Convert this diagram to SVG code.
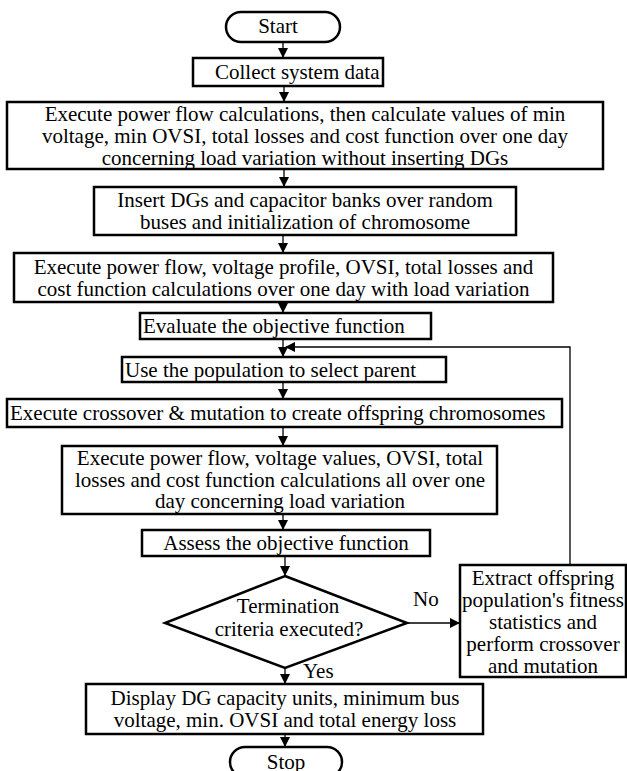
<svg xmlns="http://www.w3.org/2000/svg" width="627" height="771" viewBox="0 0 627 771">
<style>
.b{fill:#fff;stroke:#000;stroke-width:2.5}
.t{font-family:"Liberation Serif","Times New Roman",serif;font-size:21px;fill:#000}
.m{text-anchor:middle}
.c{fill:none;stroke:#000;stroke-width:1.3}
</style>
<defs>
<marker id="ah" markerWidth="10" markerHeight="10" refX="9" refY="5" orient="auto" markerUnits="userSpaceOnUse">
<path d="M0,0 L10,5 L0,10 Z" fill="#000"/>
</marker>
</defs>
<g id="connectors">
<line class="c" x1="283" y1="42" x2="283" y2="57" marker-end="url(#ah)"/>
<line class="c" x1="284" y1="86" x2="284" y2="101" marker-end="url(#ah)"/>
<line class="c" x1="284" y1="169" x2="284" y2="186" marker-end="url(#ah)"/>
<line class="c" x1="283" y1="235" x2="283" y2="252" marker-end="url(#ah)"/>
<line class="c" x1="283" y1="302" x2="283" y2="312" marker-end="url(#ah)"/>
<line class="c" x1="283" y1="339" x2="283" y2="356" marker-end="url(#ah)"/>
<polyline class="c" points="570,564 570,347 286,347" marker-end="url(#ah)"/>
<line class="c" x1="283" y1="382" x2="283" y2="398" marker-end="url(#ah)"/>
<line class="c" x1="283" y1="427" x2="283" y2="445" marker-end="url(#ah)"/>
<line class="c" x1="283" y1="514" x2="283" y2="529" marker-end="url(#ah)"/>
<line class="c" x1="285" y1="556" x2="285" y2="575" marker-end="url(#ah)"/>
<line class="c" x1="407" y1="623" x2="459" y2="623" marker-end="url(#ah)"/>
<line class="c" x1="285" y1="668" x2="285" y2="683" marker-end="url(#ah)"/>
<line class="c" x1="285" y1="734" x2="285" y2="746" marker-end="url(#ah)"/>
<text class="t" x="413" y="606">No</text>
<text class="t" x="303" y="678">Yes</text>
</g>
<g id="start">
<rect class="b" x="226" y="12" width="114" height="30" rx="15"/>
<text class="t m" x="278" y="33">Start</text>
</g>
<g id="collect">
<rect class="b" x="193" y="58" width="190" height="28"/>
<text class="t" x="215" y="79">Collect system data</text>
</g>
<g id="baseflow">
<rect class="b" x="7" y="102" width="596" height="67"/>
<text class="t m" x="305" y="121">Execute power flow calculations, then calculate values of min</text>
<text class="t m" x="305" y="143">voltage, min OVSI, total losses and cost function over one day</text>
<text class="t m" x="305" y="165">concerning load variation without inserting DGs</text>
</g>
<g id="insert">
<rect class="b" x="94" y="187" width="422" height="48"/>
<text class="t m" x="305" y="207">Insert DGs and capacitor banks over random</text>
<text class="t m" x="305" y="229">buses and initialization of chromosome</text>
</g>
<g id="flow2">
<rect class="b" x="14" y="253" width="539" height="49"/>
<text class="t m" x="283.5" y="274">Execute power flow, voltage profile, OVSI, total losses and</text>
<text class="t m" x="283.5" y="296">cost function calculations over one day with load variation</text>
</g>
<g id="evaluate">
<rect class="b" x="140" y="313" width="291" height="26"/>
<text class="t" x="143" y="333">Evaluate the objective function</text>
</g>
<g id="select">
<rect class="b" x="122" y="357" width="324" height="25"/>
<text class="t" x="125" y="377">Use the population to select parent</text>
</g>
<g id="crossover">
<rect class="b" x="7" y="399" width="555" height="28"/>
<text class="t" x="10" y="420">Execute crossover &amp; mutation to create offspring chromosomes</text>
</g>
<g id="flow3">
<rect class="b" x="62" y="446" width="435" height="68"/>
<text class="t m" x="280" y="465">Execute power flow, voltage values, OVSI, total</text>
<text class="t m" x="280" y="487">losses and cost function calculations all over one</text>
<text class="t m" x="280" y="508">day concerning load variation</text>
</g>
<g id="assess">
<rect class="b" x="142" y="530" width="288" height="26"/>
<text class="t m" x="286" y="550">Assess the objective function</text>
</g>
<g id="decision">
<polygon class="b" points="285,576 407,623 285,668 165,623"/>
<text class="t m" x="288" y="613">Termination</text>
<text class="t m" x="289" y="636">criteria executed?</text>
</g>
<g id="extract">
<rect class="b" x="460" y="565" width="166" height="112"/>
<text class="t m" x="543" y="585">Extract offspring</text>
<text class="t m" x="543" y="607">population's fitness</text>
<text class="t m" x="543" y="629">statistics and</text>
<text class="t m" x="543" y="651">perform crossover</text>
<text class="t m" x="543" y="673">and mutation</text>
</g>
<g id="display">
<rect class="b" x="86" y="684" width="397" height="50"/>
<text class="t m" x="285" y="705">Display DG capacity units, minimum bus</text>
<text class="t m" x="285" y="727">voltage, min. OVSI and total energy loss</text>
</g>
<g id="stop">
<rect class="b" x="230" y="747" width="112" height="30" rx="15"/>
<text class="t m" x="286" y="769">Stop</text>
</g>
</svg>
